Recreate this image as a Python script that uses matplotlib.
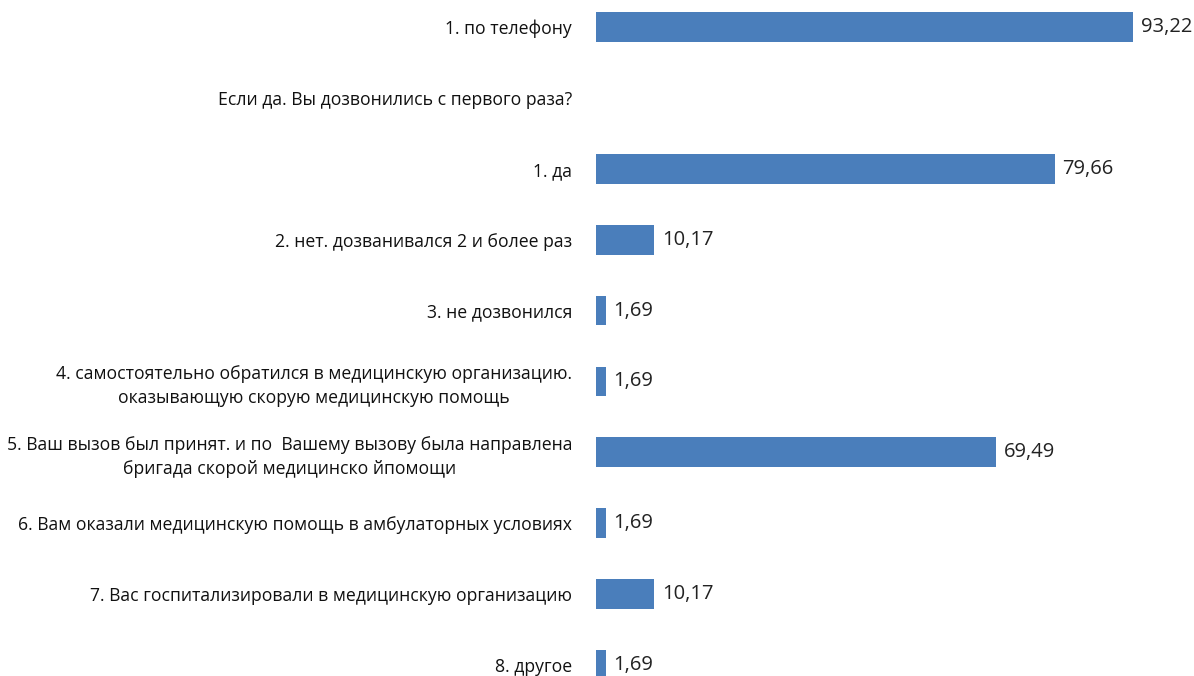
import numpy as np
import matplotlib.pyplot as plt

plt.rcParams['font.family'] = ['Open Sans', 'DejaVu Sans']

# данные
labels = [
    '1. по телефону',
    'Если да. Вы дозвонились с первого раза?',
    '1. да',
    '2. нет. дозванивался 2 и более раз',
    '3. не дозвонился',
    '4. самостоятельно обратился в медицинскую организацию.\nоказывающую скорую медицинскую помощь',
    '5. Ваш вызов был принят. и по  Вашему вызову была направлена\nбригада скорой медицинско йпомощи',
    '6. Вам оказали медицинскую помощь в амбулаторных условиях',
    '7. Вас госпитализировали в медицинскую организацию',
    '8. другое',
]
values = [93.22, np.nan, 79.66, 10.17, 1.69, 1.69, 69.49, 1.69, 10.17, 1.69]
value_text = ['93,22', '', '79,66', '10,17', '1,69', '1,69', '69,49', '1,69', '10,17', '1,69']

fig = plt.figure(figsize=(11.94, 6.76), dpi=100)
ax = fig.add_axes([0.499, 0.0, 0.501, 1.0])

y = np.arange(len(labels))
vals = np.nan_to_num(values)
ax.barh(y, vals, height=0.42, color='#4a7ebb')

for yi, v, t in zip(y, vals, value_text):
    if t:
        ax.text(v + 1.3, yi, t, va='center', ha='left', fontsize=14.5, color='#222222')

ax.set_yticks(y)
ax.set_yticklabels(labels, fontsize=12.7, color='#111111', linespacing=1.4)
for lbl in ax.get_yticklabels():
    lbl.set_multialignment('center')
ax.tick_params(axis='y', length=0, pad=17)

ax.set_xlim(0, 103.8)
ax.set_ylim(9.155, -0.381)
ax.set_xticks([])
for s in ax.spines.values():
    s.set_visible(False)

fig.savefig('out.png', dpi=100)
